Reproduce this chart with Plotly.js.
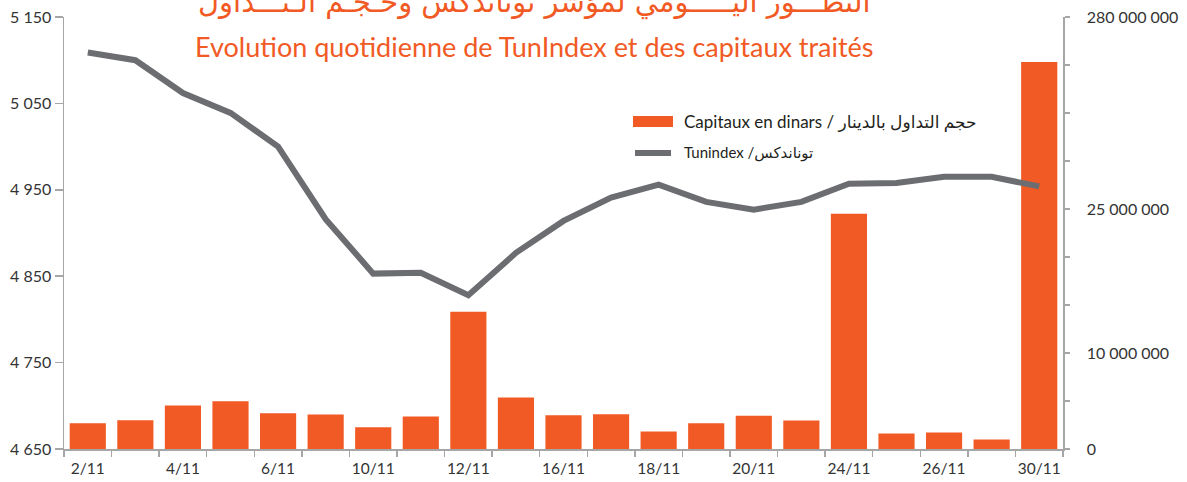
<!DOCTYPE html>
<html>
<head>
<meta charset="utf-8">
<script src="https://cdn.plot.ly/plotly-3.0.1.min.js"></script>
<style>html,body{margin:0;padding:0;background:#fff;}#chart{width:1187px;height:482px;}</style>
</head>
<body>
<div id="chart"></div>
<script>
// Dates (categories)
const dates = ["2/11","3/11","4/11","5/11","6/11","9/11","10/11","11/11","12/11","13/11","16/11",
               "17/11","18/11","19/11","20/11","23/11","24/11","25/11","26/11","27/11","30/11"];
// Tick labels shown on the x axis ("" = not labelled)
const dateLabels = ["2/11","","4/11","","6/11","","10/11","","12/11","","16/11",
                    "","18/11","","20/11","","24/11","","26/11","","30/11"];
// Capitaux traités (dinars)
const capitaux = [2680000,2990000,4530000,4980000,3730000,3590000,2270000,3390000,14300000,5360000,3520000,
                  3630000,1820000,2690000,3460000,2970000,24500000,1610000,1720000,990000,40300000];
// TunIndex
const tunindex = [5109,5100,5062,5039,5000,4916,4853,4854,4828,4877,4914,
                  4941,4956,4936,4927,4936,4957,4958,4965,4965,4954];
// Right axis ticks
const capTickVals = [0,5000000,10000000,15000000,20000000,25000000,30000000,35000000,40000000,45000000];
const capTickText = ["0","","10 000 000","","","25 000 000","","","","280 000 000"];

const orange = "#F15A24";
const grey = "#6C6D71";
const axisCol = "#A6A6A6";
const txtCol = "#333333";
const font = "Lato, 'DejaVu Sans', sans-serif";

const traces = [
  {
    type: "bar", x: dates, y: capitaux, yaxis: "y",
    marker: {color: orange}, name: "Capitaux en dinars / حجم التداول بالدينار",
    hoverinfo: "x+y"
  },
  {
    type: "scatter", mode: "lines", x: dates, y: tunindex, yaxis: "y2",
    line: {color: grey, width: 6}, name: "Tunindex /توناندكس"
  }
];

const L = 64, R = 1063, T = 17, B = 449;
const px = v => (v - L) / (R - L);
const py = v => (B - v) / (B - T);

const layout = {
  width: 1187, height: 482,
  margin: {l: L, r: 1187 - R, t: T, b: 482 - B, pad: 0},
  paper_bgcolor: "#fff", plot_bgcolor: "#fff",
  showlegend: false,
  bargap: 0.24,
  separators: ". ",
  font: {family: font, color: txtCol, size: 15},
  xaxis: {
    type: "category", categoryorder: "array", categoryarray: dates,
    tickvals: dates, ticktext: dateLabels, tickson: "boundaries", tickangle: 0,
    ticks: "outside", ticklen: 6, tickcolor: axisCol, tickwidth: 1.5,
    ticklabelstandoff: 5,
    showline: true, linecolor: axisCol, linewidth: 1.5,
    showgrid: false, zeroline: false,
    tickfont: {family: font, size: 15.5, color: txtCol}
  },
  yaxis: {
    side: "right", range: [0, 45000000],
    tickvals: capTickVals, ticktext: capTickText,
    ticks: "outside", ticklen: 5, tickcolor: axisCol, tickwidth: 1.5,
    ticklabelstandoff: 14,
    showline: true, linecolor: axisCol, linewidth: 1.5,
    showgrid: false, zeroline: false,
    tickfont: {family: font, size: 16, color: txtCol}
  },
  yaxis2: {
    overlaying: "y", side: "left", range: [4650, 5150], dtick: 100, tick0: 4650,
    separatethousands: true,
    ticks: "outside", ticklen: 8, tickcolor: axisCol, tickwidth: 1.5,
    showline: true, linecolor: axisCol, linewidth: 1.5,
    showgrid: false, zeroline: false,
    tickfont: {family: font, size: 16, color: txtCol}
  },
  shapes: [
    {type: "rect", xref: "paper", yref: "paper",
     x0: px(633), x1: px(673), y0: py(127), y1: py(116),
     fillcolor: orange, line: {width: 0}},
    {type: "line", xref: "paper", yref: "paper",
     x0: px(635), x1: px(671), y0: py(153), y1: py(153),
     line: {color: grey, width: 6}}
  ],
  annotations: [
    {xref: "paper", yref: "paper", x: px(534), y: py(3), xanchor: "center", yanchor: "middle",
     text: "التطـــور اليـــــومي لمؤشر توناندكس وحـجـم الـتـــداول", showarrow: false,
     font: {family: "'DejaVu Sans', sans-serif", size: 29, color: orange}},
    {xref: "paper", yref: "paper", x: px(534), y: py(47), xanchor: "center", yanchor: "middle",
     text: "Evolution quotidienne de TunIndex et des capitaux traités", showarrow: false,
     font: {family: font, size: 27, color: orange}},
    {xref: "paper", yref: "paper", x: px(682), y: py(122), xanchor: "left", yanchor: "middle",
     text: "Capitaux en dinars / حجم التداول بالدينار", showarrow: false,
     font: {family: font, size: 17, color: "#231F20"}},
    {xref: "paper", yref: "paper", x: px(682), y: py(153), xanchor: "left", yanchor: "middle",
     text: "Tunindex /توناندكس", showarrow: false,
     font: {family: font, size: 15, color: "#231F20"}}
  ]
};

Plotly.newPlot("chart", traces, layout, {displayModeBar: false, staticPlot: true});
</script>
</body>
</html>
